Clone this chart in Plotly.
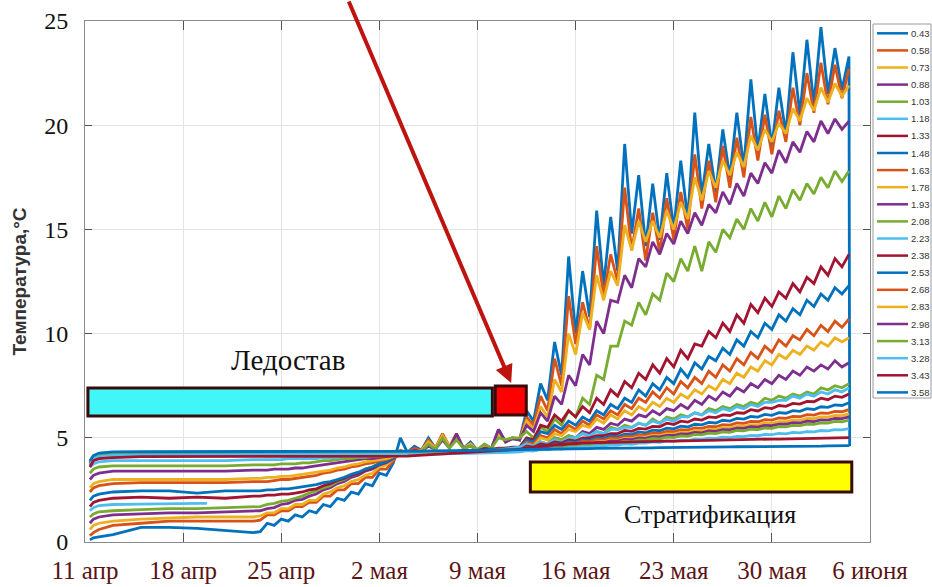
import plotly.graph_objects as go

# ---------------- data ----------------
# sampling times, days after 11 April (ice period coarse, then half-day steps)
DAYS_START = [0.35, 0.6, 1, 2, 4, 6, 8, 10, 12]
DAYS = DAYS_START + [12.5 + 0.5 * i for i in range(85)]   # ... 12.5 .. 54.5

DEPTHS = ["0.43", "0.58", "0.73", "0.88", "1.03", "1.18", "1.33", "1.48", "1.63", "1.78", "1.93",
          "2.08", "2.23", "2.38", "2.53", "2.68", "2.83", "2.98", "3.13", "3.28", "3.43", "3.58"]

T043 = ([0.1, 0.2, 0.25, 0.35, 0.7, 0.7, 0.65, 0.55, 0.45, 0.5, 0.9, 0.8, 1.1, 1.0, 1.3, 1.2, 1.5, 1.4, 1.8, 1.7, 2.1, 2.0, 2.4, 2.3, 2.8, 2.7, 3.3, 3.2, 3.8]
        + [5.0, 4.3, 4.6, 4.4, 5.0, 4.5, 5.1, 4.6, 5.0, 4.5, 4.8, 4.4, 4.6, 4.5, 5.4, 4.8, 5.0, 4.9]
        + [6.3, 5.8, 7.6, 6.8, 9.6, 8.0, 13.7, 10.0, 13.0, 10.8, 15.9, 12.3, 15.6, 13.0, 19.1, 14.8, 17.6, 14.2, 17.2, 14.5,
           17.7, 15.0, 18.3, 15.5, 20.6, 16.6, 19.1, 16.8, 19.8, 17.5, 20.6, 18.0, 22.2, 18.8, 21.5, 19.0, 21.8, 19.6,
           23.5, 20.5, 24.1, 21.0, 24.7, 21.5, 23.7, 21.7, 23.3]
        + [4.6])
T058 = ([0.3, 0.45, 0.6, 0.8, 0.9, 1.0, 1.0, 1.0, 1.0, 1.05, 1.3, 1.3, 1.5, 1.5, 1.7, 1.7, 1.9, 1.9, 2.2, 2.2, 2.5, 2.5, 2.8, 2.8, 3.1, 3.1, 3.5, 3.5, 3.9]
        + [4.4, 4.3, 4.5, 4.4, 4.9, 4.5, 5.2, 4.6, 5.0, 4.5, 4.7, 4.4, 4.6, 4.5, 5.3, 4.8, 5.0, 4.9]
        + [6.0, 5.6, 7.0, 6.3, 8.8, 7.5, 11.8, 9.5, 11.5, 10.2, 14.2, 11.8, 13.8, 12.5, 17.0, 14.0, 16.0, 13.5, 15.8, 13.9,
           16.5, 14.5, 16.8, 15.0, 18.6, 16.0, 18.3, 16.3, 19.0, 17.0, 19.4, 17.5, 20.4, 18.3, 20.5, 18.6, 20.7, 19.2,
           21.8, 20.0, 22.5, 20.6, 23.0, 21.0, 22.9, 21.3, 22.7])
T073 = ([0.6, 0.8, 0.9, 1.0, 1.1, 1.15, 1.2, 1.2, 1.2, 1.25, 1.4, 1.4, 1.6, 1.6, 1.8, 1.8, 2.0, 2.0, 2.3, 2.4, 2.6, 2.7, 2.9, 3.0, 3.2, 3.3, 3.6, 3.7, 4.0]
        + [4.3, 4.3, 4.4, 4.4, 4.8, 4.5, 5.1, 4.6, 5.2, 4.5, 4.7, 4.4, 4.6, 4.5, 5.2, 4.8, 5.0, 4.9]
        + [5.8, 5.4, 6.5, 6.0, 7.8, 7.2, 10.0, 9.0, 11.0, 10.2, 12.8, 11.6, 13.0, 12.3, 15.2, 14.0, 15.4, 14.4, 15.4, 14.6,
           15.9, 15.0, 16.3, 15.5, 17.5, 16.4, 17.8, 17.0, 18.3, 17.6, 18.7, 18.0, 19.5, 18.8, 19.8, 19.2, 20.1, 19.6,
           20.8, 20.2, 21.3, 20.7, 21.8, 21.1, 22.0, 21.4, 21.9])
T088 = ([0.9, 1.1, 1.2, 1.3, 1.35, 1.4, 1.4, 1.45, 1.5, 1.5, 1.6, 1.65, 1.8, 1.85, 2.0, 2.05, 2.2, 2.3, 2.5, 2.6, 2.8, 2.9, 3.1, 3.2, 3.4, 3.5, 3.7, 3.8, 4.0]
        + [4.3, 4.3, 4.4, 4.35, 4.6, 4.45, 4.9, 4.5, 5.2, 4.5, 4.6, 4.4, 4.5, 4.5, 5.4, 4.8, 4.95, 4.9]
        + [5.6, 5.3, 6.2, 5.8, 7.0, 6.6, 8.0, 7.5, 9.0, 8.5, 10.6, 10.0, 11.6, 11.5, 12.8, 12.2, 13.6, 13.2, 14.4, 13.8,
           14.8, 14.3, 15.4, 14.8, 15.8, 15.2, 16.2, 15.8, 16.8, 16.2, 17.2, 16.6, 17.7, 17.2, 18.2, 17.7, 18.8, 18.2,
           19.2, 18.7, 19.7, 19.2, 20.2, 19.6, 20.3, 19.8, 20.2])
T103 = ([1.2, 1.35, 1.45, 1.5, 1.55, 1.6, 1.6, 1.65, 1.7, 1.7, 1.8, 1.85, 1.95, 2.0, 2.1, 2.2, 2.35, 2.45, 2.6, 2.7, 2.9, 3.0, 3.2, 3.3, 3.5, 3.6, 3.8, 3.9, 4.05]
        + [4.25, 4.3, 4.35, 4.35, 4.7, 4.45, 5.0, 4.5, 4.9, 4.5, 4.6, 4.45, 4.7, 4.5, 5.0, 4.9, 5.0, 5.0]
        + [5.3, 5.0, 5.5, 5.3, 5.9, 5.6, 6.3, 6.0, 6.9, 6.6, 8.0, 7.8, 9.4, 9.4, 10.6, 10.4, 11.5, 10.9, 11.9, 11.6,
           12.9, 12.5, 13.6, 13.0, 14.2, 13.0, 14.4, 13.9, 15.0, 14.6, 15.5, 15.0, 16.0, 15.4, 16.3, 15.6, 16.6, 16.0,
           16.9, 16.4, 17.2, 16.7, 17.5, 17.0, 17.8, 17.3, 17.8])
DAYS_118 = [0.35, 0.6, 1, 2, 4, 6, 8, 8.7]          # sensor 1.18 m recorded only at the start
T118 = [1.5, 1.65, 1.75, 1.8, 1.82, 1.85, 1.85, 1.85]
T133 = ([1.7, 1.9, 2.0, 2.1, 2.15, 2.1, 2.15, 2.1, 2.2, 2.2, 2.25, 2.25, 2.3, 2.3, 2.35, 2.4, 2.5, 2.55, 2.7, 2.8, 2.95, 3.05, 3.2, 3.3, 3.45, 3.55, 3.75, 3.85, 4.05]
        + [4.2, 4.25, 4.25, 4.3, 4.3, 4.3, 4.35, 4.35, 4.35, 4.4, 4.4, 4.4, 4.45, 4.45, 4.5, 4.5, 4.55, 4.55]
        + [5.0, 4.9, 5.6, 5.5, 6.1, 5.8, 6.3, 6.0, 6.5, 6.2, 6.9, 6.6, 7.3, 7.0, 7.7, 7.4, 8.1, 7.8, 8.5, 8.1,
           8.8, 8.4, 9.2, 8.8, 9.5, 9.4, 10.1, 9.8, 10.5, 10.1, 10.9, 10.5, 11.4, 11.0, 11.7, 11.3, 12.0, 11.7,
           12.4, 12.0, 12.7, 12.4, 13.2, 12.8, 13.6, 13.2, 13.8])
T148 = ([2.0, 2.2, 2.3, 2.4, 2.45, 2.45, 2.35, 2.45, 2.45, 2.45, 2.5, 2.5, 2.55, 2.55, 2.6, 2.65, 2.7, 2.75, 2.85, 2.9, 3.0, 3.1, 3.25, 3.35, 3.5, 3.6, 3.75, 3.85, 4.05]
        + [4.2, 4.2, 4.25, 4.25, 4.3, 4.3, 4.3, 4.35, 4.35, 4.35, 4.4, 4.4, 4.4, 4.45, 4.45, 4.5, 4.5, 4.5]
        + [4.9, 4.8, 5.3, 5.2, 5.6, 5.4, 5.8, 5.6, 6.0, 5.8, 6.3, 6.1, 6.6, 6.4, 6.9, 6.7, 7.3, 7.0, 7.6, 7.3,
           7.9, 7.6, 8.3, 7.9, 8.6, 8.3, 8.9, 8.7, 9.3, 9.0, 9.7, 9.4, 10.1, 9.8, 10.5, 10.2, 10.9, 10.6,
           11.2, 10.9, 11.6, 11.3, 11.9, 11.6, 12.2, 11.9, 12.3])
T163 = ([2.4, 2.6, 2.7, 2.8, 2.85, 2.85, 2.85, 2.85, 2.9, 2.9, 2.9, 2.95, 3.0, 3.0, 3.05, 3.1, 3.15, 3.2, 3.3, 3.35, 3.45, 3.5, 3.6, 3.65, 3.75, 3.8, 3.9, 3.95, 4.1]
        + [4.2, 4.2, 4.2, 4.25, 4.25, 4.3, 4.3, 4.3, 4.35, 4.35, 4.35, 4.4, 4.4, 4.4, 4.45, 4.45, 4.5, 4.5]
        + [4.8, 4.7, 5.1, 5.0, 5.4, 5.2, 5.6, 5.4, 5.8, 5.6, 6.1, 5.9, 6.3, 6.1, 6.6, 6.4, 6.9, 6.7, 7.2, 6.9,
           7.4, 7.1, 7.7, 7.4, 7.9, 7.6, 8.2, 7.9, 8.5, 8.2, 8.8, 8.5, 9.1, 8.8, 9.4, 9.1, 9.7, 9.4,
           9.9, 9.7, 10.2, 9.9, 10.4, 10.1, 10.6, 10.3, 10.7])
T178 = ([2.6, 2.8, 2.9, 3.0, 3.0, 3.0, 3.0, 3.0, 3.05, 3.05, 3.1, 3.1, 3.15, 3.15, 3.2, 3.25, 3.3, 3.35, 3.4, 3.45, 3.55, 3.6, 3.7, 3.75, 3.85, 3.9, 3.95, 4.0, 4.1]
        + [4.15, 4.2, 4.2, 4.2, 4.25, 4.25, 4.25, 4.3, 4.3, 4.3, 4.35, 4.35, 4.35, 4.4, 4.4, 4.45, 4.45, 4.5]
        + [4.7, 4.6, 5.0, 4.9, 5.2, 5.1, 5.4, 5.3, 5.6, 5.5, 5.9, 5.7, 6.1, 5.9, 6.3, 6.1, 6.5, 6.3, 6.7, 6.5,
           6.9, 6.7, 7.1, 6.9, 7.3, 7.1, 7.5, 7.3, 7.8, 7.6, 8.1, 7.9, 8.4, 8.2, 8.7, 8.5, 9.0, 8.8,
           9.2, 9.0, 9.4, 9.2, 9.6, 9.4, 9.8, 9.6, 9.8])
T193 = ([3.0, 3.2, 3.3, 3.4, 3.4, 3.4, 3.4, 3.4, 3.45, 3.45, 3.45, 3.5, 3.5, 3.5, 3.55, 3.55, 3.6, 3.65, 3.7, 3.75, 3.8, 3.85, 3.9, 3.95, 4.0, 4.0, 4.05, 4.1, 4.15]
        + [4.2, 4.2, 4.2, 4.2, 4.25, 4.25, 4.25, 4.3, 4.3, 4.3, 4.3, 4.35, 4.35, 4.35, 4.4, 4.4, 4.4, 4.45]
        + [4.6, 4.5, 4.8, 4.7, 5.0, 4.9, 5.1, 5.0, 5.3, 5.2, 5.5, 5.4, 5.7, 5.6, 5.9, 5.8, 6.1, 6.0, 6.3, 6.1,
           6.4, 6.3, 6.6, 6.4, 6.8, 6.6, 7.0, 6.8, 7.2, 7.0, 7.4, 7.2, 7.6, 7.4, 7.8, 7.6, 8.0, 7.8,
           8.2, 8.0, 8.4, 8.2, 8.5, 8.3, 8.7, 8.4, 8.6])
T208 = ([3.3, 3.5, 3.6, 3.65, 3.65, 3.65, 3.65, 3.65, 3.7, 3.7, 3.7, 3.7, 3.75, 3.75, 3.75, 3.8, 3.8, 3.85, 3.9, 3.9, 3.95, 4.0, 4.0, 4.05, 4.05, 4.1, 4.1, 4.15, 4.2]
        + [4.2, 4.2, 4.2, 4.25, 4.25, 4.25, 4.3, 4.3, 4.3, 4.3, 4.35, 4.35, 4.35, 4.4, 4.4, 4.4, 4.45, 4.45]
        + [4.7, 4.6, 4.8, 4.7, 5.0, 4.9, 5.1, 5.0, 5.2, 5.1, 5.3, 5.2, 5.5, 5.4, 5.6, 5.5, 5.7, 5.6, 5.9, 5.7,
           6.0, 5.9, 6.1, 6.0, 6.2, 6.1, 6.4, 6.3, 6.5, 6.4, 6.6, 6.5, 6.7, 6.6, 6.9, 6.8, 7.0, 6.9,
           7.1, 7.0, 7.2, 7.1, 7.4, 7.3, 7.5, 7.4, 7.6])
T223 = ([3.6, 3.75, 3.85, 3.9, 3.9, 3.9, 3.9, 3.9, 3.95, 3.95, 3.95, 3.95, 3.95, 4.0, 4.0, 4.0, 4.0, 4.0, 4.05, 4.05, 4.05, 4.1, 4.1, 4.1, 4.1, 4.15, 4.15, 4.15, 4.2]
        + [4.2, 4.2, 4.2, 4.2, 4.25, 4.25, 4.25, 4.3, 4.3, 4.3, 4.3, 4.35, 4.35, 4.35, 4.4, 4.45, 4.5, 4.55]
        + [4.7, 4.6, 4.8, 4.7, 4.9, 4.8, 5.0, 5.0, 5.2, 5.1, 5.3, 5.2, 5.4, 5.4, 5.5, 5.5, 5.7, 5.6, 5.8, 5.7,
           5.9, 5.8, 6.0, 6.0, 6.2, 6.1, 6.3, 6.2, 6.4, 6.3, 6.5, 6.4, 6.6, 6.5, 6.7, 6.7, 6.8, 6.8,
           7.0, 6.9, 7.1, 7.0, 7.2, 7.1, 7.3, 7.2, 7.4])
T238 = ([3.8, 4.0, 4.1, 4.15, 4.17, 4.17, 4.16, 4.15, 4.14, 4.14, 4.13, 4.13, 4.12, 4.12, 4.12, 4.12, 4.12, 4.13, 4.13, 4.13, 4.14, 4.14, 4.15, 4.15, 4.16, 4.16, 4.17, 4.18, 4.2]
        + [4.2, 4.2, 4.2, 4.2, 4.2, 4.25, 4.25, 4.25, 4.25, 4.3, 4.3, 4.3, 4.3, 4.35, 4.35, 4.35, 4.4, 4.4]
        + [4.6, 4.55, 4.7, 4.65, 4.8, 4.75, 4.9, 4.85, 5.0, 5.0, 5.1, 5.1, 5.2, 5.2, 5.35, 5.31, 5.45, 5.42, 5.55, 5.53,
           5.7, 5.64, 5.8, 5.75, 5.9, 5.85, 6.0, 5.97, 6.1, 6.07, 6.2, 6.18, 6.35, 6.29, 6.45, 6.4, 6.55, 6.51,
           6.65, 6.62, 6.75, 6.73, 6.9, 6.83, 7.0, 6.94, 7.1])
T253 = ([3.85, 4.1, 4.2, 4.25, 4.28, 4.28, 4.28, 4.28, 4.28, 4.28, 4.28, 4.28, 4.28, 4.28, 4.28, 4.28, 4.28, 4.28, 4.28, 4.28, 4.28, 4.28, 4.28, 4.28, 4.29, 4.29, 4.29, 4.3, 4.3]
        + [4.3, 4.3, 4.31, 4.31, 4.32, 4.32, 4.33, 4.33, 4.34, 4.34, 4.35, 4.35, 4.36, 4.36, 4.37, 4.38, 4.39, 4.4]
        + [4.53, 4.5, 4.62, 4.59, 4.72, 4.68, 4.81, 4.78, 4.9, 4.87, 5.0, 4.96, 5.09, 5.06, 5.18, 5.15, 5.28, 5.24, 5.37, 5.34,
           5.46, 5.43, 5.56, 5.52, 5.65, 5.62, 5.74, 5.71, 5.84, 5.8, 5.93, 5.9, 6.02, 5.99, 6.12, 6.08, 6.21, 6.18,
           6.3, 6.27, 6.4, 6.36, 6.49, 6.46, 6.58, 6.55, 6.68])
T268 = ([3.7, 4.0, 4.12, 4.18, 4.2, 4.2, 4.2, 4.2, 4.2, 4.2, 4.2, 4.2, 4.2, 4.2, 4.2, 4.2, 4.2, 4.2, 4.2, 4.2, 4.2, 4.2, 4.2, 4.21, 4.21, 4.21, 4.22, 4.22, 4.22]
        + [4.22, 4.22, 4.23, 4.23, 4.24, 4.25, 4.25, 4.26, 4.27, 4.28, 4.29, 4.3, 4.31, 4.32, 4.33, 4.34, 4.35, 4.36]
        + [4.51, 4.49, 4.59, 4.57, 4.67, 4.65, 4.75, 4.73, 4.83, 4.81, 4.91, 4.89, 4.99, 4.97, 5.07, 5.05, 5.15, 5.13, 5.23, 5.21,
           5.31, 5.29, 5.39, 5.37, 5.47, 5.45, 5.55, 5.53, 5.63, 5.61, 5.71, 5.69, 5.79, 5.77, 5.87, 5.85, 5.95, 5.93,
           6.03, 6.01, 6.11, 6.09, 6.19, 6.17, 6.27, 6.25, 6.35])
T283 = ([3.75, 4.05, 4.15, 4.2, 4.22, 4.22, 4.22, 4.22, 4.22, 4.22, 4.22, 4.22, 4.22, 4.22, 4.22, 4.22, 4.22, 4.22, 4.22, 4.22, 4.23, 4.23, 4.23, 4.23, 4.23, 4.24, 4.24, 4.24, 4.24]
        + [4.24, 4.24, 4.25, 4.25, 4.26, 4.26, 4.27, 4.28, 4.29, 4.3, 4.3, 4.31, 4.32, 4.33, 4.34, 4.35, 4.36, 4.37]
        + [4.45, 4.44, 4.52, 4.51, 4.6, 4.58, 4.67, 4.66, 4.75, 4.73, 4.82, 4.81, 4.9, 4.88, 4.97, 4.96, 5.04, 5.03, 5.12, 5.1,
           5.19, 5.18, 5.26, 5.25, 5.34, 5.32, 5.41, 5.4, 5.49, 5.47, 5.56, 5.55, 5.63, 5.62, 5.71, 5.69, 5.78, 5.77,
           5.86, 5.84, 5.93, 5.92, 6.0, 5.99, 6.08, 6.06, 6.15])
T298 = ([3.8, 4.1, 4.18, 4.22, 4.24, 4.24, 4.24, 4.24, 4.24, 4.24, 4.24, 4.24, 4.24, 4.24, 4.24, 4.24, 4.24, 4.24, 4.24, 4.24, 4.24, 4.25, 4.25, 4.25, 4.25, 4.25, 4.26, 4.26, 4.26]
        + [4.26, 4.26, 4.27, 4.27, 4.28, 4.28, 4.29, 4.29, 4.3, 4.3, 4.31, 4.32, 4.33, 4.34, 4.35, 4.36, 4.37, 4.38]
        + [4.45, 4.43, 4.52, 4.5, 4.58, 4.57, 4.65, 4.64, 4.72, 4.7, 4.79, 4.77, 4.85, 4.84, 4.92, 4.91, 4.99, 4.97, 5.06, 5.04,
           5.12, 5.11, 5.19, 5.18, 5.26, 5.24, 5.33, 5.31, 5.39, 5.38, 5.46, 5.45, 5.53, 5.51, 5.6, 5.58, 5.66, 5.65,
           5.73, 5.71, 5.8, 5.78, 5.86, 5.85, 5.93, 5.92, 6.0])
T313 = ([3.85, 4.12, 4.2, 4.24, 4.26, 4.26, 4.26, 4.26, 4.26, 4.26, 4.26, 4.26, 4.26, 4.26, 4.26, 4.26, 4.26, 4.26, 4.26, 4.26, 4.26, 4.26, 4.27, 4.27, 4.27, 4.27, 4.27, 4.28, 4.28]
        + [4.28, 4.28, 4.28, 4.29, 4.29, 4.29, 4.3, 4.3, 4.3, 4.31, 4.31, 4.32, 4.32, 4.33, 4.33, 4.34, 4.34, 4.35]
        + [4.4, 4.38, 4.46, 4.44, 4.53, 4.51, 4.59, 4.57, 4.65, 4.63, 4.72, 4.7, 4.78, 4.76, 4.84, 4.82, 4.9, 4.89, 4.97, 4.95,
           5.03, 5.01, 5.09, 5.07, 5.16, 5.14, 5.22, 5.2, 5.28, 5.26, 5.35, 5.33, 5.41, 5.39, 5.47, 5.45, 5.53, 5.52,
           5.6, 5.58, 5.66, 5.64, 5.72, 5.7, 5.79, 5.77, 5.85])
T328 = ([3.7, 4.0, 4.1, 4.15, 4.18, 4.18, 4.18, 4.18, 4.18, 4.18, 4.18, 4.18, 4.18, 4.18, 4.18, 4.18, 4.18, 4.18, 4.18, 4.18, 4.19, 4.19, 4.19, 4.19, 4.19, 4.2, 4.2, 4.2, 4.2]
        + [4.2, 4.2, 4.21, 4.21, 4.22, 4.22, 4.23, 4.23, 4.24, 4.24, 4.25, 4.26, 4.27, 4.28, 4.29, 4.3, 4.31, 4.32]
        + [4.39, 4.37, 4.44, 4.42, 4.48, 4.46, 4.53, 4.51, 4.57, 4.56, 4.62, 4.6, 4.66, 4.65, 4.71, 4.69, 4.75, 4.74, 4.8, 4.78,
           4.85, 4.83, 4.89, 4.87, 4.94, 4.92, 4.98, 4.97, 5.03, 5.01, 5.07, 5.06, 5.12, 5.1, 5.16, 5.15, 5.21, 5.19,
           5.26, 5.24, 5.3, 5.28, 5.35, 5.33, 5.39, 5.38, 5.44])
T343 = ([3.6, 3.9, 4.0, 4.05, 4.1, 4.1, 4.1, 4.1, 4.1, 4.1, 4.1, 4.1, 4.1, 4.1, 4.1, 4.1, 4.1, 4.1, 4.1, 4.1, 4.1, 4.1, 4.1, 4.1, 4.1, 4.1, 4.1, 4.1, 4.1]
        + [4.1, 4.12, 4.14, 4.16, 4.18, 4.2, 4.22, 4.24, 4.26, 4.28, 4.3, 4.32, 4.34, 4.36, 4.38, 4.4, 4.42, 4.45]
        + [4.5, 4.55, 4.6, 4.63, 4.66, 4.69, 4.72, 4.74, 4.75, 4.76, 4.77, 4.78, 4.78, 4.79, 4.8, 4.8, 4.81, 4.82, 4.82, 4.83,
           4.84, 4.84, 4.85, 4.86, 4.86, 4.87, 4.88, 4.88, 4.89, 4.9, 4.9, 4.91, 4.92, 4.92, 4.93, 4.94, 4.94, 4.95,
           4.96, 4.96, 4.97, 4.98, 4.98, 4.99, 5.0, 5.0, 5.01])
T358 = ([3.9, 4.15, 4.27, 4.32, 4.33, 4.33, 4.33, 4.33, 4.33, 4.33, 4.33, 4.33, 4.33, 4.33, 4.33, 4.33, 4.33, 4.33, 4.33, 4.33, 4.34, 4.34, 4.34, 4.34, 4.34, 4.35, 4.35, 4.35, 4.35]
        + [4.35, 4.35, 4.36, 4.36, 4.37, 4.37, 4.38, 4.38, 4.39, 4.39, 4.4, 4.4, 4.41, 4.41, 4.42, 4.42, 4.43, 4.43]
        + [4.44, 4.44, 4.45, 4.45, 4.46, 4.46, 4.47, 4.47, 4.48, 4.48, 4.49, 4.49, 4.5, 4.5, 4.5, 4.51, 4.51, 4.52, 4.52, 4.53,
           4.53, 4.53, 4.54, 4.54, 4.55, 4.55, 4.55, 4.56, 4.56, 4.56, 4.57, 4.57, 4.57, 4.58, 4.58, 4.58, 4.59, 4.59,
           4.59, 4.6, 4.6, 4.6, 4.6, 4.61, 4.61, 4.61, 4.62])

SERIES = [T043, T058, T073, T088, T103, T118, T133, T148, T163, T178, T193,
          T208, T223, T238, T253, T268, T283, T298, T313, T328, T343, T358]

TICK_DAYS = [0, 7, 14, 21, 28, 35, 42, 49, 56]
TICK_LABELS = ["11 апр", "18 апр", "25 апр", "2 мая", "9 мая", "16 мая", "23 мая", "30 мая", "6 июня"]
Y_TICKS = [0, 5, 10, 15, 20, 25]

# ---------------- figure ----------------
COLORS = ["#0072BD", "#D95319", "#EDB120", "#7E2F8E", "#77AC30", "#4DBEEE", "#A2142F"]

fig = go.Figure()
for i, (name, temps) in enumerate(zip(DEPTHS, SERIES)):
    if name == "1.18":
        xs = DAYS_118
    elif name == "0.43":
        xs = DAYS + [54.55]
    else:
        xs = DAYS
    if len(xs) != len(temps):
        raise ValueError(f"length mismatch for {name}: {len(xs)} vs {len(temps)}")
    fig.add_trace(go.Scatter(x=xs, y=temps, mode="lines", name=name,
                             line=dict(color=COLORS[i % 7], width=2.8), showlegend=False,
                             hoverinfo="skip"))

# plot-area geometry (pixels) for paper-coordinate decorations
L, R, T, B = 85, 870, 21, 542
def px(xp):
    return (xp - L) / (R - L)
def py(yp):
    return (B - yp) / (B - T)

shapes = []
annotations = []

# phase bars
shapes.append(dict(type="rect", xref="x", yref="y", x0=0.21, x1=29.06, y0=6.05, y1=7.39,
                   fillcolor="#40F6F6", line=dict(color="#3a0a0a", width=3), layer="above"))
shapes.append(dict(type="rect", xref="x", yref="y", x0=29.27, x1=31.48, y0=6.09, y1=7.49,
                   fillcolor="#FF0000", line=dict(color="#3a0a0a", width=3), layer="above"))
shapes.append(dict(type="rect", xref="x", yref="y", x0=31.77, x1=54.7, y0=2.4, y1=3.84,
                   fillcolor="#FFFF00", line=dict(color="#3a0a0a", width=3), layer="above"))
annotations.append(dict(x=14.5, y=8.75, xref="x", yref="y", text="Ледостав", showarrow=False,
                        font=dict(family="Liberation Serif", size=29, color="#111")))
annotations.append(dict(x=44.6, y=1.3, xref="x", yref="y", text="Стратификация", showarrow=False,
                        font=dict(family="Liberation Serif", size=26, color="#111")))
# arrow
annotations.append(dict(x=30.4, y=7.63, xref="x", yref="y", text="", showarrow=True,
                        ax=-163, ay=-386, axref="pixel", ayref="pixel",
                        arrowcolor="#BE1410", arrowwidth=4, arrowhead=2, arrowsize=0.9))

# manual legend
shapes.append(dict(type="rect", xref="paper", yref="paper", x0=px(873), x1=px(931), y0=py(398), y1=py(24),
                   fillcolor="white", line=dict(color="#9a9a9a", width=1)))
for i, name in enumerate(DEPTHS):
    yy = py(33.3 + 17.1 * i)
    shapes.append(dict(type="line", xref="paper", yref="paper", x0=px(877), x1=px(908), y0=yy, y1=yy,
                       line=dict(color=COLORS[i % 7], width=2.5)))
    annotations.append(dict(x=px(909), y=yy, xref="paper", yref="paper", text=name, showarrow=False,
                            xanchor="left", yanchor="middle",
                            font=dict(family="Liberation Sans", size=9.5, color="#333")))

fig.update_layout(
    width=932, height=587,
    margin=dict(l=L, r=932 - R, t=T, b=587 - B, autoexpand=False),
    paper_bgcolor="white", plot_bgcolor="white",
    showlegend=False,
    shapes=shapes, annotations=annotations,
    xaxis=dict(range=[0, 56], tickvals=TICK_DAYS, ticktext=TICK_LABELS, automargin=False,
               ticks="inside", ticklen=9, tickcolor="#555", tickwidth=1,
               showline=True, linecolor="#8a8a8a", linewidth=1, mirror="ticks",
               showgrid=True, gridcolor="#e4e4e4", gridwidth=1, zeroline=False,
               tickfont=dict(family="Liberation Serif", size=25, color="#5b1414"),
               ticklabelstandoff=6),
    yaxis=dict(range=[0, 25], tickvals=Y_TICKS, automargin=False,
               ticks="inside", ticklen=7, tickcolor="#555", tickwidth=1,
               showline=True, linecolor="#8a8a8a", linewidth=1, mirror="ticks",
               showgrid=True, gridcolor="#e4e4e4", gridwidth=1, zeroline=False,
               tickfont=dict(family="Liberation Serif", size=24, color="#111"),
               ticklabelstandoff=11,
               title=dict(text="<b>Температура,°С</b>", standoff=12,
                          font=dict(family="Liberation Sans", size=19, color="#333"))),
)

fig.write_html("out.html")
